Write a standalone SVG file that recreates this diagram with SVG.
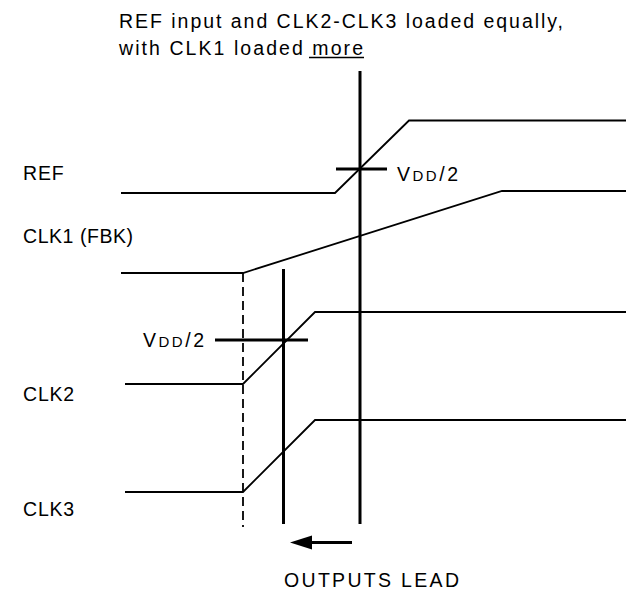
<svg xmlns="http://www.w3.org/2000/svg" width="626" height="592" viewBox="0 0 626 592">
<style>
text{font-family:"Liberation Sans",Arial,sans-serif;font-size:19.5px;fill:#000}
.lab{letter-spacing:0.8px}
.sig{fill:none;stroke:#000;stroke-width:1.8}
.thick{fill:none;stroke:#000;stroke-width:3}
.dash{fill:none;stroke:#000;stroke-width:1.8;stroke-dasharray:9,5}
.sc{font-size:15px}
</style>
<rect width="626" height="592" fill="#fff"/>
<g id="title">
<text x="119" y="28" textLength="444" lengthAdjust="spacing">REF input and CLK2-CLK3 loaded equally,</text>
<text x="119" y="55" textLength="244" lengthAdjust="spacing">with CLK1 loaded more</text>
<line x1="309" y1="57.5" x2="364" y2="57.5" stroke="#000" stroke-width="1.3"/>
</g>
<g id="labels">
<text class="lab" x="23" y="180">REF</text>
<text x="23" y="243" textLength="110" lengthAdjust="spacing">CLK1 (FBK)</text>
<text class="lab" x="23" y="401">CLK2</text>
<text class="lab" x="23" y="516">CLK3</text>
</g>
<g id="REF"><polyline class="sig" points="121,193 335,193 409,120.5 626,120.5"/></g>
<g id="CLK1"><polyline class="sig" points="121,273 243,273 502,191 626,191"/></g>
<g id="CLK2"><polyline class="sig" points="125,384 243,384 315,312 626,312"/></g>
<g id="CLK3"><polyline class="sig" points="125,492 243,492 315,420 626,420"/></g>
<g id="markers">
<line class="dash" x1="243" y1="273" x2="243" y2="527"/>
<line class="thick" x1="360" y1="71" x2="360" y2="524"/>
<line class="thick" x1="336" y1="169" x2="387" y2="169"/>
<line class="thick" x1="283.5" y1="269" x2="283.5" y2="524"/>
<line class="thick" x1="215" y1="340" x2="308" y2="340"/>
<text x="397" y="181" textLength="61" lengthAdjust="spacing">V<tspan class="sc">DD</tspan>/2</text>
<text x="143" y="347" textLength="61" lengthAdjust="spacing">V<tspan class="sc">DD</tspan>/2</text>
</g>
<g id="connectors">
<line class="thick" x1="310" y1="542.5" x2="352" y2="542.5"/>
<polygon points="290,542.5 312,535.5 312,549.5" fill="#000"/>
</g>
<g id="caption">
<text x="284" y="587" textLength="175" lengthAdjust="spacing">OUTPUTS LEAD</text>
</g>
</svg>
